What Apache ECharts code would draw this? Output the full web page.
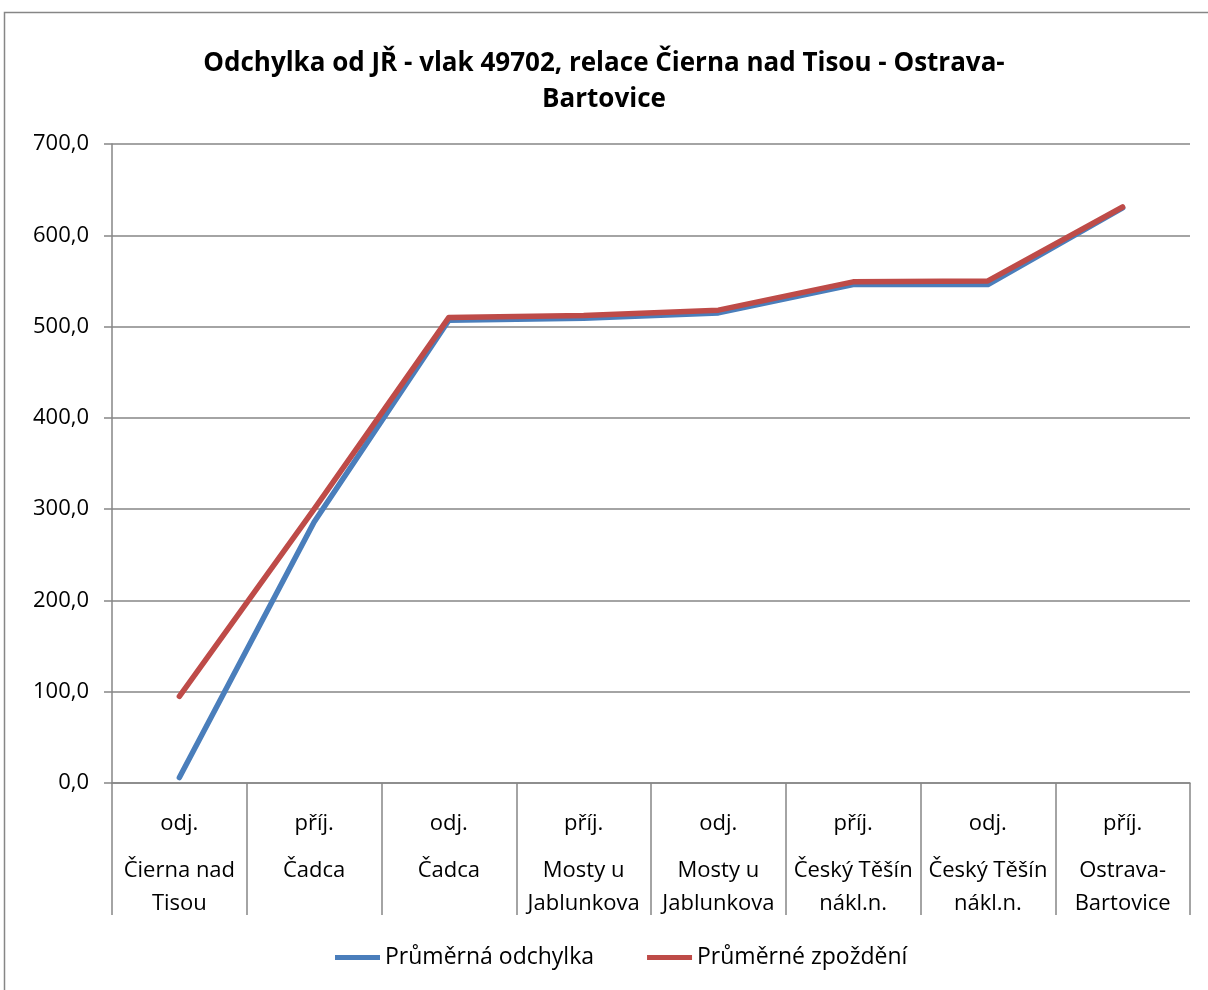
<!DOCTYPE html>
<html>
<head>
<meta charset="utf-8">
<script src="https://cdn.jsdelivr.net/npm/echarts@6/dist/echarts.min.js"></script>
<style>
  html, body { margin: 0; padding: 0; background: #fff; }
  #chart { width: 1208px; height: 990px; }
</style>
</head>
<body>
<div id="chart"></div>
<script>
// Categories: event type (odj./příj.) and station name
var events = ['odj.', 'příj.', 'odj.', 'příj.', 'odj.', 'příj.', 'odj.', 'příj.'];
var stations = ['Čierna nad\nTisou', 'Čadca', 'Čadca', 'Mosty u\nJablunkova', 'Mosty u\nJablunkova',
  'Český Těšín\nnákl.n.', 'Český Těšín\nnákl.n.', 'Ostrava-\nBartovice'];

// Series values
var prumernaOdchylka = [6, 286, 507, 509, 515, 546, 546, 630];
var prumerneZpozdeni = [95, 300, 510, 512, 518, 549, 550, 631];

var categories = events.map(function (e, i) { return e + '|' + stations[i]; });

var font = '"Open Sans", sans-serif';
var gray = '#868686';

var chart = echarts.init(document.getElementById('chart'));

chart.setOption({
  animation: false,
  textStyle: { fontFamily: font },
  title: {
    text: 'Odchylka od JŘ - vlak 49702, relace Čierna nad Tisou - Ostrava-\nBartovice',
    left: 'center',
    top: 41,
    textStyle: { fontFamily: font, fontWeight: 'bold', fontSize: 26, lineHeight: 36, color: '#000' }
  },
  legend: {
    left: 330,
    top: 941,
    icon: 'rect',
    itemWidth: 45,
    itemHeight: 5,
    itemGap: 53,
    textStyle: { fontFamily: font, fontSize: 23, color: '#000' },
    data: ['Průměrná odchylka', 'Průměrné zpoždění']
  },
  grid: { left: 112, right: 18, top: 144, bottom: 207 },
  xAxis: {
    type: 'category',
    data: categories,
    boundaryGap: true,
    axisLine: { lineStyle: { color: gray, width: 1.5 } },
    axisTick: { show: true, interval: 0, length: 132, lineStyle: { color: gray, width: 1.5 } },
    axisLabel: {
      interval: 0,
      margin: 37,
      formatter: function (v) {
        var parts = v.split('|');
        var lines = parts[1].split('\n').map(function (s) { return '{b|' + s + '}'; });
        return '{a|' + parts[0] + '}\n' + lines.join('\n');
      },
      rich: {
        a: { fontFamily: font, fontSize: 22, lineHeight: 34, padding: [0, 0, 26, 0], color: '#000' },
        b: { fontFamily: font, fontSize: 22, lineHeight: 33, color: '#000' }
      }
    }
  },
  yAxis: {
    type: 'value',
    min: 0,
    max: 700,
    interval: 100,
    axisLine: { show: true, lineStyle: { color: gray, width: 1.5 } },
    axisTick: { show: true, inside: false, length: 8, lineStyle: { color: gray, width: 1.5 } },
    splitLine: { lineStyle: { color: gray, width: 1.5 } },
    axisLabel: {
      margin: 23,
      fontFamily: font,
      fontSize: 22,
      color: '#000',
      formatter: function (v) { return v.toFixed(1).replace('.', ','); }
    }
  },
  series: [
    {
      name: 'Průměrná odchylka',
      type: 'line',
      data: prumernaOdchylka,
      showSymbol: false,
      symbol: 'none',
      itemStyle: { color: '#4A7EBB' },
      lineStyle: { color: '#4A7EBB', width: 5.5, cap: 'round', join: 'round' }
    },
    {
      name: 'Průměrné zpoždění',
      type: 'line',
      data: prumerneZpozdeni,
      showSymbol: false,
      symbol: 'none',
      itemStyle: { color: '#BE4B48' },
      lineStyle: { color: '#BE4B48', width: 5.5, cap: 'round', join: 'round' }
    }
  ],
  graphic: [
    {
      type: 'rect',
      shape: { x: 4.5, y: 12.5, width: 1220, height: 1000 },
      style: { fill: 'none', stroke: gray, lineWidth: 1.5 },
      silent: true
    }
  ]
});
</script>
</body>
</html>
